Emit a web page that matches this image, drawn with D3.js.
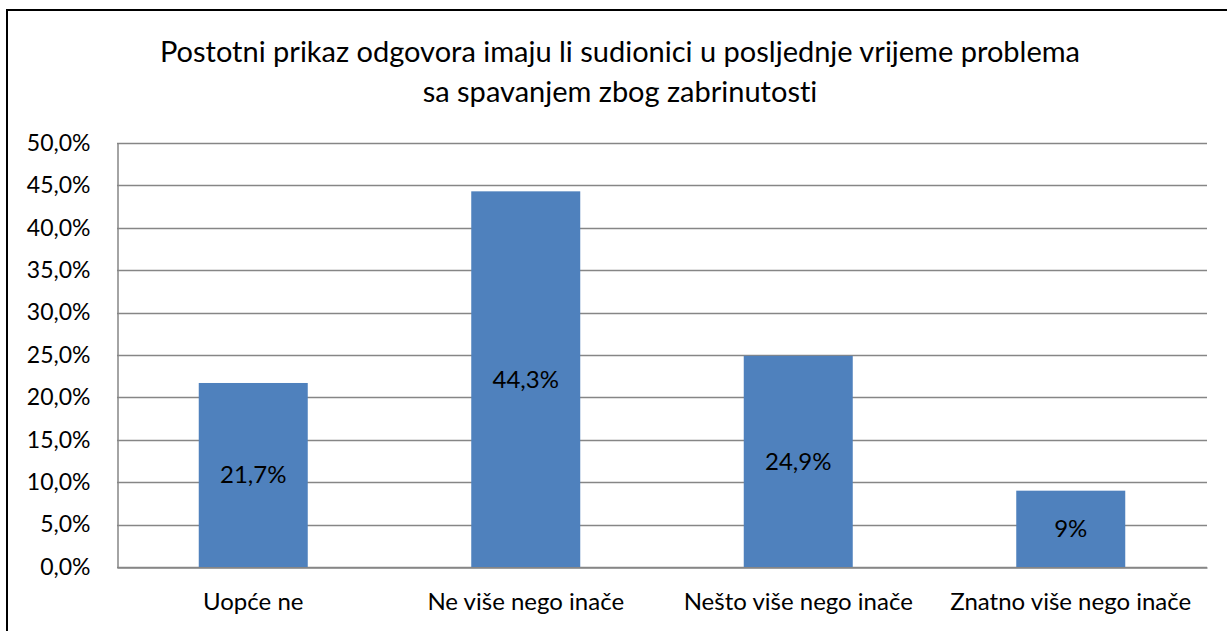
<!DOCTYPE html>
<html>
<head>
<meta charset="utf-8">
<script src="https://cdn.jsdelivr.net/npm/d3@7"></script>
<style>
  body { margin: 0; background: #fff; }
  text { font-family: "Lato", "Noto Sans", sans-serif; fill: #000; font-variant-ligatures: none; }
</style>
</head>
<body>
<div id="chart"></div>
<script>
(function () {

    /* chart data */
    var categories = ["Uopće ne", "Ne više nego inače", "Nešto više nego inače", "Znatno više nego inače"];
    var values = [21.7, 44.3, 24.9, 9];
    var valueLabels = ["21,7%", "44,3%", "24,9%", "9%"];
    var yTicks = [0, 5, 10, 15, 20, 25, 30, 35, 40, 45, 50];
    var titleLines = ["Postotni prikaz odgovora imaju li sudionici u posljednje vrijeme problema",
        "sa spavanjem zbog zabrinutosti"];

    var width = 1227, height = 631;
    var margin = {top: 143, right: 20, bottom: 64, left: 117};

    var svg = d3.select("#chart").append("svg")
        .attr("width", width)
        .attr("height", height);

    // chart border (runs off the right and bottom edge like the original)
    svg.append("rect")
        .attr("x", 7)
        .attr("y", 10)
        .attr("width", 1240)
        .attr("height", 660)
        .attr("fill", "none")
        .attr("stroke", "#000")
        .attr("stroke-width", 2);

    svg.selectAll(".title")
        .data(titleLines)
        .enter().append("text")
        .attr("class", "title")
        .attr("x", 620)
        .attr("y", function (d, i) { return 62 + i * 40; })
        .attr("text-anchor", "middle")
        .style("font-size", "29px")
        .text(function (d) { return d; });

    var x = d3.scaleBand()
        .domain(categories)
        .range([margin.left, width - margin.right])
        .paddingInner(0.6)
        .paddingOuter(0.3);

    var y = d3.scaleLinear()
        .domain([0, 50])
        .range([height - margin.bottom, margin.top]);

    // gridlines
    svg.append("g")
        .selectAll("line")
        .data(yTicks)
        .enter().append("line")
        .attr("x1", margin.left)
        .attr("x2", width - margin.right)
        .attr("y1", function (d) { return Math.round(y(d)) + 0.5; })
        .attr("y2", function (d) { return Math.round(y(d)) + 0.5; })
        .attr("stroke", "#868686")
        .attr("stroke-width", 1.5);

    // y axis
    var yAxis = svg.append("g")
        .attr("transform", "translate(" + (margin.left + 0.5) + ",0)")
        .call(d3.axisLeft(y)
            .tickValues(yTicks)
            .tickSize(0)
            .tickPadding(27)
            .tickFormat(function (d) { return d.toFixed(1).replace(".", ",") + "%"; }));
    yAxis.select(".domain").attr("stroke", "#868686").attr("stroke-width", 1.5);
    yAxis.selectAll("text").style("font-size", "23px").attr("font-family", null);

    // bars
    svg.selectAll(".bar")
        .data(values)
        .enter().append("rect")
        .attr("class", "bar")
        .attr("x", function (d, i) { return x(categories[i]); })
        .attr("y", function (d) { return y(d); })
        .attr("width", x.bandwidth())
        .attr("height", function (d) { return y(0) - y(d); })
        .attr("fill", "#4F81BD");

    // value labels in the middle of each bar
    svg.selectAll(".vlabel")
        .data(values)
        .enter().append("text")
        .attr("class", "vlabel")
        .attr("x", function (d, i) { return x(categories[i]) + x.bandwidth() / 2; })
        .attr("y", function (d) { return (y(d) + y(0)) / 2; })
        .attr("dy", "0.35em")
        .attr("text-anchor", "middle")
        .style("font-size", "24px")
        .text(function (d, i) { return valueLabels[i]; });

    // x axis
    var xAxis = svg.append("g")
        .attr("transform", "translate(0," + (y(0) + 0.5) + ")")
        .call(d3.axisBottom(x).tickSize(0).tickPadding(25));
    xAxis.select(".domain").attr("stroke", "#868686").attr("stroke-width", 1.5);
    xAxis.selectAll("text").style("font-size", "24px").attr("font-family", null);

})();
</script>
</body>
</html>
